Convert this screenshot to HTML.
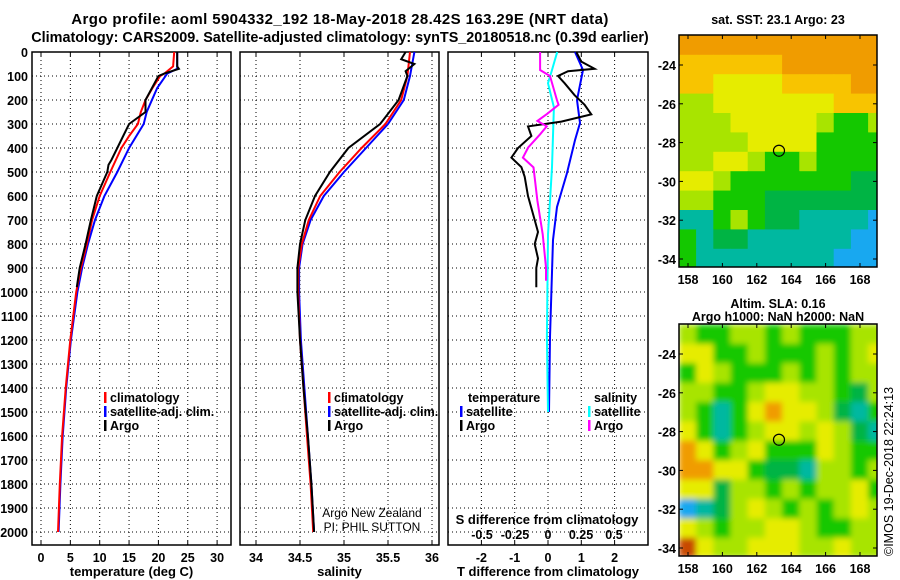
<!DOCTYPE html>
<html><head><meta charset="utf-8"><style>
body{margin:0;background:#fff;width:900px;height:580px;overflow:hidden}
svg{display:block;font-family:"Liberation Sans",sans-serif;font-weight:bold}
</style></head><body>
<svg id="chart" width="900" height="580" viewBox="0 0 900 580" xmlns="http://www.w3.org/2000/svg">
<text x="340" y="24" font-size="15" text-anchor="middle" letter-spacing="0.4">Argo profile: aoml 5904332_192 18-May-2018 28.42S 163.29E (NRT data)</text>
<text x="340" y="42" font-size="14.4" text-anchor="middle">Climatology: CARS2009. Satellite-adjusted climatology: synTS_20180518.nc (0.39d earlier)</text>
<g id="g"></g>
</svg>
<script>
const depthTicks=[0,100,200,300,400,500,600,700,800,900,1000,1100,1200,1300,1400,1500,1600,1700,1800,1900,2000];
const tempTicks=[0,5,10,15,20,25,30];
const salTicks=[34,34.5,35,35.5,36];
const tdTicks=[-2,-1,0,1,2];
const sdTicks=[-0.5,-0.25,0,0.25,0.5];
const sdTickLabels=["-0.5","-0.25","0","0.25","0.5"];
const latTicks=[-24,-26,-28,-30,-32,-34];
const lonTicks=[158,160,162,164,166,168];

const tClimD=[0,60,90,100,150,200,250,300,350,400,500,600,700,800,900,1000,1200,1400,1600,1800,2000];
const tClim=[22.7,22.5,21,20.3,19,17.8,17,16.5,15,13.7,11.8,10,8.7,7.8,6.8,6.0,5.0,4.2,3.6,3.2,2.9];
const tSatD=[0,70,90,150,250,300,400,500,600,700,800,900,1000,1200,1400,1600,1800,2000];
const tSat=[23.2,23.2,21.5,19.8,18,17.5,15,13,10.8,9.2,8,7,6.2,5.1,4.3,3.7,3.3,3.0];
const tArgoD=[0,60,70,90,100,200,250,300,350,400,450,470,500,600,700,800,900,980];
const tArgo=[23.2,23.2,23.5,21,20,17.8,17.8,15,14,13,12,11.5,11.3,9.5,8.5,7.6,6.6,6.1];

const sClimD=[0,100,200,300,400,500,600,700,800,900,1000,1200,1400,1600,1800,2000];
const sClim=[35.75,35.72,35.65,35.47,35.2,34.95,34.73,34.6,34.52,34.48,34.48,34.5,34.54,34.58,34.62,34.65];
const sSatD=[0,100,200,300,400,500,600,700,800,900,1000,1200,1400,1600,1800,2000];
const sSat=[35.8,35.75,35.68,35.5,35.25,35.0,34.77,34.62,34.53,34.49,34.49,34.51,34.55,34.59,34.63,34.66];
const sArgoD=[0,30,50,80,100,200,300,400,500,600,700,800,900,1000,1200,1400,1600,1800,2000];
const sArgo=[35.7,35.65,35.8,35.7,35.72,35.62,35.41,35.05,34.84,34.67,34.56,34.5,34.47,34.47,34.5,34.54,34.59,34.63,34.66];

const dTSatD=[0,75,200,296,367,504,646,783,1187,1500];
const dTSat=[0.81,1.05,0.87,0.96,0.81,0.57,0.27,0.15,0.06,0.03];
const dTArgoD=[0,40,70,80,100,130,180,220,260,290,310,350,400,440,480,520,600,700,750,800,860,900,980];
const dTArgo=[0.85,1.0,1.4,0.6,0.3,0.5,0.8,1.1,1.3,0.4,-0.6,-0.5,-0.9,-1.1,-0.8,-0.7,-0.6,-0.4,-0.3,-0.4,-0.3,-0.35,-0.35];
const dSSatD=[0,75,130,230,480,760,1190,1500];
const dSSat=[0.07,0.03,0,0.045,0.03,0,-0.008,0];
const dSArgoD=[0,75,100,204,220,259,287,310,343,398,440,481,620,759,898,953];
const dSArgo=[-0.06,-0.06,0.015,0.07,0.08,-0.01,-0.08,-0.01,-0.06,-0.15,-0.19,-0.11,-0.08,-0.04,-0.015,-0.015];

const sstGrid=["OOOOOOOOOOOO","PPPPPPOOOOOO","PPYYYYPPPPOO","LLYYYYYYYPPP","LLLYYYYYLGGL","LLLLYYYYGGGG","LLYYLGGLGGGG","YYLGGGGGGGDD","LLGGGDDDDDDD","TTGLGDDTTTTB","GTDDTTTTTTBB","GTTTTTTTTBBB"];
const slaGrid=["LGGLLGLGGGLL","YYGGLGGGLGLY","GYLGGGLGLGLL","LLGGLYYLLGDL","LGTGYOYYLDTG","YGTGLYYLYLDT","OYGLYGGGYLGG","OOYYGDDTLLGL","YYDLLGLGLLYG","BTDLYLGLGLYL","YLGLLYYLGGLL","RYLLYYYLLYLL"];

const NS="http://www.w3.org/2000/svg";
const G=document.getElementById('g');
function el(t,a,p){const e=document.createElementNS(NS,t);for(const k in a)e.setAttribute(k,a[k]);(p||G).appendChild(e);return e;}
const Y0=52,YB=545,dy=d=>Y0+d*0.24;
function txt(x,y,s,sz,anc,p){const e=el('text',{x:x,y:y,'font-size':sz||12,'text-anchor':anc||'middle'},p);e.textContent=s;return e;}

function panel(name,x0,x1,xs,ticks,labels,xlab){
  const g=el('g',{});
  
  
  ticks.forEach((t,i)=>{const x=xs(t);el('line',{x1:x,x2:x,y1:Y0,y2:YB,stroke:'#000','stroke-dasharray':'1,3','stroke-width':1},g);
    el('line',{x1:x,x2:x,y1:YB,y2:YB-4,stroke:'#000'},g);el('line',{x1:x,x2:x,y1:Y0,y2:Y0+4,stroke:'#000'},g);
    if(labels){const l=txt(x,YB+17,labels[i],12.5,'middle',g);}});
  depthTicks.forEach(d=>{const y=dy(d);el('line',{x1:x0,x2:x1,y1:y,y2:y,stroke:'#000','stroke-dasharray':'1,3'},g);});
  el('rect',{x:x0,y:Y0,width:x1-x0,height:YB-Y0,fill:'none',stroke:'#000','stroke-width':1.5},g);
  if(xlab){const l=txt((x0+x1)/2,YB+31,xlab,13,'middle',g);}
  return g;
}
function line(g,xs,vals,deps,col,name,w){
  const pts=vals.map((v,i)=>xs(v).toFixed(1)+','+dy(deps[i]).toFixed(1)).join(' ');
  const p=el('polyline',{points:pts,fill:'none',stroke:col,'stroke-width':w||2},g);
  
  
}
const xT=v=>41+v*5.87;
const p1=panel('temperature-panel',32,231,xT,tempTicks,tempTicks.map(String),'temperature (deg C)');
depthTicks.forEach(d=>{const l=txt(28,dy(d)+5,String(d),12.5,'end');});
line(p1,xT,tSat,tSatD,'#0000ff','temp-satellite-line');
line(p1,xT,tClim,tClimD,'#ff0000','temp-climatology-line');
line(p1,xT,tArgo,tArgoD,'#000','temp-argo-line');
const xS=v=>256+(v-34)*88;
const p2=panel('salinity-panel',240,439,xS,salTicks,salTicks.map(String),'salinity');
line(p2,xS,sSat,sSatD,'#0000ff','sal-satellite-line');
line(p2,xS,sClim,sClimD,'#ff0000','sal-climatology-line');
line(p2,xS,sArgo,sArgoD,'#000','sal-argo-line');
function legend(g,x,y,items){items.forEach((it,i)=>{const yy=y+i*14;el('rect',{x:x,y:yy-10,width:2.5,height:11,fill:it[1]},g);
  const t=txt(x+6,yy,it[0],12.5,'start',g);});}
legend(p1,104,402,[['climatology','#ff0000'],['satellite-adj. clim.','#0000ff'],['Argo','#000']]);
legend(p2,328,402,[['climatology','#ff0000'],['satellite-adj. clim.','#0000ff'],['Argo','#000']]);
txt(372,517,'Argo New Zealand',12,'middle',p2).setAttribute('font-weight','normal');
txt(372,531,'PI: PHIL SUTTON',12,'middle',p2).setAttribute('font-weight','normal');
const xTD=v=>548+v*33.3, xSD=v=>548+v*132;
const p3=panel('difference-panel',448,648,xTD,tdTicks,tdTicks.map(String),'T difference from climatology');
sdTicks.forEach((t,i)=>{const l=txt(xSD(t),539,sdTickLabels[i],12.5,'middle',p3);});
txt(547,524,'S difference from climatology',13,'middle',p3);
line(p3,xTD,dTSat,dTSatD,'#0000ff','tdiff-satellite-line');
line(p3,xSD,dSSat,dSSatD,'#00ffff','sdiff-satellite-line');
line(p3,xTD,dTArgo,dTArgoD,'#000','tdiff-argo-line');
line(p3,xSD,dSArgo,dSArgoD,'#ff00ff','sdiff-argo-line');
txt(468,402,'temperature',12.5,'start',p3);
legend(p3,460,416,[['satellite','#0000ff'],['Argo','#000']]);
txt(594,402,'salinity',12.5,'start',p3);
legend(p3,588,416,[['satellite','#00ffff'],['Argo','#ff00ff']]);
const COL={O:'#f09c00',P:'#f8c400',Y:'#e6ec00',L:'#a8e400',G:'#14c800',D:'#00b444',T:'#00b8a0',B:'#18a8f0',R:'#c84800'};
function map(name,top,grid,title1,title2,blur){
  const g=el('g',{});
  
  
  const x0=679,x1=877,y1=top+232;
  const lon=v=>688+(v-158)*17.2, lat=v=>top+30+(-24-v)*19.4;
  const cid='clip'+name;const cp=el('clipPath',{id:cid},g);el('rect',{x:x0,y:top,width:x1-x0,height:y1-top},cp);
  const cells=el('g',{'clip-path':'url(#'+cid+')'},g);
  const inner=el('g',blur?{filter:'url(#bl)'}:{},cells);
  grid.forEach((row,r)=>{for(let c=0;c<row.length;c++){
    const la=-22.5-r, lo=157.5+c;
    el('rect',{x:lon(lo)-0.5,y:lat(la)-0.5,width:17.7,height:19.9,fill:COL[row[c]]},inner);}});
  el('rect',{x:x0,y:top,width:x1-x0,height:y1-top,fill:'none',stroke:'#000','stroke-width':1.5},g);
  latTicks.forEach(v=>{const y=lat(v);el('line',{x1:x0,x2:x0+4,y1:y,y2:y,stroke:'#000'},g);el('line',{x1:x1,x2:x1-4,y1:y,y2:y,stroke:'#000'},g);
    txt(x0-3,y+5,String(v),12.5,'end',g);});
  lonTicks.forEach(v=>{const x=lon(v);el('line',{x1:x,x2:x,y1:y1,y2:y1-4,stroke:'#000'},g);el('line',{x1:x,x2:x,y1:top,y2:top+4,stroke:'#000'},g);
    txt(x,y1+17,String(v),12.5,'middle',g);});
  const c=el('circle',{cx:lon(163.29),cy:lat(-28.42),r:5.5,fill:'none',stroke:'#000','stroke-width':1.2},g);
  
  
  if(title2){txt(778,top-16,title1,12.5,'middle',g);txt(778,top-3,title2,12.5,'middle',g);}else txt(778,top-11,title1,12.5,'middle',g);
}
const defs=el('defs',{});const f=el('filter',{id:'bl',x:'-10%',y:'-10%',width:'120%',height:'120%'},defs);el('feGaussianBlur',{stdDeviation:'3'},f);
map('sst-map',35,sstGrid,'sat. SST: 23.1 Argo: 23',null,false);
map('sla-map',324,slaGrid,'Altim. SLA: 0.16','Argo h1000: NaN h2000: NaN',true);
const cr=txt(0,0,'©IMOS 19-Dec-2018 22:24:13',12.5,'start');
cr.setAttribute('font-weight','normal');
cr.setAttribute('transform','translate(893,556) rotate(-90)');


</script>
</body></html>
